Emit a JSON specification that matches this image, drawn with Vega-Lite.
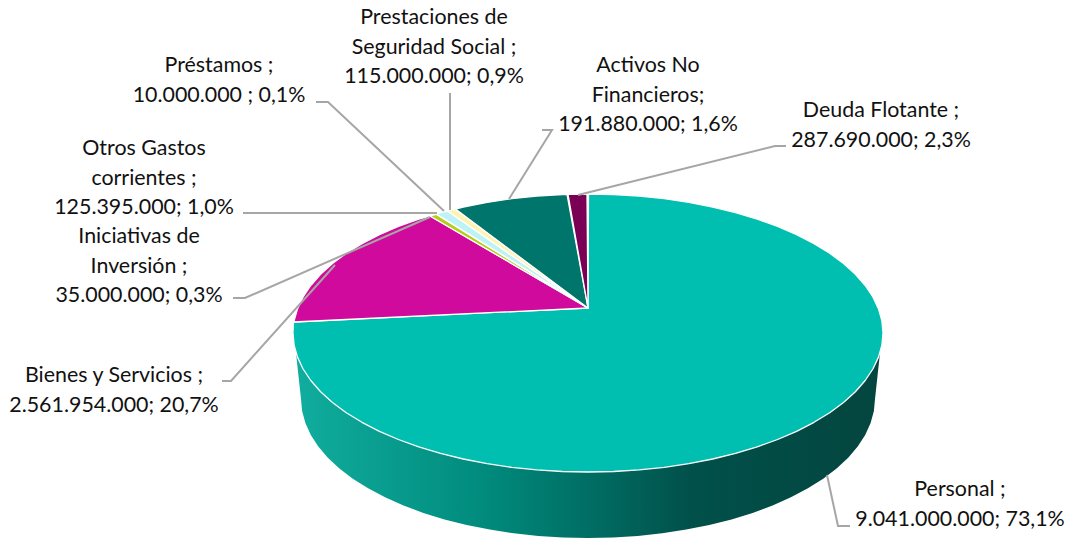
{"$schema":"https://vega.github.io/schema/vega-lite/v6.json","width":1073,"height":538,"autosize":{"type":"fit","contains":"padding"},"padding":0,"background":"white","view":{"stroke":null},
"datasets":{
"pared":[{"o":0,"x":296,"y":353},{"o":1,"x":301,"y":399},{"o":2,"x":302.1,"y":411.1},{"o":3,"x":305.4,"y":423.1},{"o":4,"x":310.8,"y":435},{"o":5,"x":318.3,"y":446.5},{"o":6,"x":327.8,"y":457.7},{"o":7,"x":339.4,"y":468.5},{"o":8,"x":352.8,"y":478.7},{"o":9,"x":368.1,"y":488.3},{"o":10,"x":385.1,"y":497.3},{"o":11,"x":403.5,"y":505.5},{"o":12,"x":423.4,"y":512.9},{"o":13,"x":444.5,"y":519.4},{"o":14,"x":466.7,"y":525},{"o":15,"x":489.8,"y":529.6},{"o":16,"x":513.8,"y":533.3},{"o":17,"x":538.2,"y":535.9},{"o":18,"x":563,"y":537.5},{"o":19,"x":588,"y":538},{"o":20,"x":613,"y":537.5},{"o":21,"x":637.8,"y":535.9},{"o":22,"x":662.2,"y":533.3},{"o":23,"x":686.2,"y":529.6},{"o":24,"x":709.3,"y":525},{"o":25,"x":731.5,"y":519.4},{"o":26,"x":752.6,"y":512.9},{"o":27,"x":772.6,"y":505.5},{"o":28,"x":790.9,"y":497.3},{"o":29,"x":807.9,"y":488.3},{"o":30,"x":823.2,"y":478.7},{"o":31,"x":836.6,"y":468.5},{"o":32,"x":848.2,"y":457.7},{"o":33,"x":857.7,"y":446.5},{"o":34,"x":865.2,"y":435},{"o":35,"x":870.6,"y":423.1},{"o":36,"x":873.9,"y":411.1},{"o":37,"x":875,"y":399},{"o":38,"x":880,"y":353},{"o":39,"x":296,"y":353}],
"sectores":[
{"s":"Personal","o":0,"x":588.5,"y":194},{"s":"Personal","o":1,"x":613.7,"y":194.5},{"s":"Personal","o":2,"x":639.2,"y":196.1},{"s":"Personal","o":3,"x":664.3,"y":198.7},{"s":"Personal","o":4,"x":688.9,"y":202.4},{"s":"Personal","o":5,"x":712.7,"y":207},{"s":"Personal","o":6,"x":735.5,"y":212.6},{"s":"Personal","o":7,"x":757.2,"y":219.1},{"s":"Personal","o":8,"x":777.6,"y":226.5},{"s":"Personal","o":9,"x":796.6,"y":234.7},{"s":"Personal","o":10,"x":814,"y":243.7},{"s":"Personal","o":11,"x":829.7,"y":253.3},{"s":"Personal","o":12,"x":843.5,"y":263.5},{"s":"Personal","o":13,"x":855.4,"y":274.3},{"s":"Personal","o":14,"x":865.2,"y":285.5},{"s":"Personal","o":15,"x":872.9,"y":297},{"s":"Personal","o":16,"x":878.5,"y":308.9},{"s":"Personal","o":17,"x":881.9,"y":320.9},{"s":"Personal","o":18,"x":883,"y":333},{"s":"Personal","o":19,"x":881.9,"y":345.1},{"s":"Personal","o":20,"x":878.5,"y":357.1},{"s":"Personal","o":21,"x":872.9,"y":369},{"s":"Personal","o":22,"x":865.2,"y":380.5},{"s":"Personal","o":23,"x":855.4,"y":391.7},{"s":"Personal","o":24,"x":843.5,"y":402.5},{"s":"Personal","o":25,"x":829.7,"y":412.7},{"s":"Personal","o":26,"x":814,"y":422.3},{"s":"Personal","o":27,"x":796.6,"y":431.3},{"s":"Personal","o":28,"x":777.6,"y":439.5},{"s":"Personal","o":29,"x":757.2,"y":446.9},{"s":"Personal","o":30,"x":735.5,"y":453.4},{"s":"Personal","o":31,"x":712.7,"y":459},{"s":"Personal","o":32,"x":688.9,"y":463.6},{"s":"Personal","o":33,"x":664.3,"y":467.3},{"s":"Personal","o":34,"x":639.2,"y":469.9},{"s":"Personal","o":35,"x":613.7,"y":471.5},{"s":"Personal","o":36,"x":588,"y":472},{"s":"Personal","o":37,"x":562.3,"y":471.5},{"s":"Personal","o":38,"x":536.8,"y":469.9},{"s":"Personal","o":39,"x":511.7,"y":467.3},{"s":"Personal","o":40,"x":487.1,"y":463.6},{"s":"Personal","o":41,"x":463.3,"y":459},{"s":"Personal","o":42,"x":440.5,"y":453.4},{"s":"Personal","o":43,"x":418.8,"y":446.9},{"s":"Personal","o":44,"x":398.4,"y":439.5},{"s":"Personal","o":45,"x":379.4,"y":431.3},{"s":"Personal","o":46,"x":362,"y":422.3},{"s":"Personal","o":47,"x":346.3,"y":412.7},{"s":"Personal","o":48,"x":332.5,"y":402.5},{"s":"Personal","o":49,"x":320.6,"y":391.7},{"s":"Personal","o":50,"x":310.8,"y":380.5},{"s":"Personal","o":51,"x":303.1,"y":369},{"s":"Personal","o":52,"x":297.5,"y":357.1},{"s":"Personal","o":53,"x":294.1,"y":345.1},{"s":"Personal","o":54,"x":293,"y":333},{"s":"Personal","o":55,"x":293.4,"y":322},{"s":"Personal","o":56,"x":588,"y":308},{"s":"Personal","o":57,"x":588.5,"y":194},
{"s":"Bienes y Servicios","o":0,"x":293.4,"y":322},{"s":"Bienes y Servicios","o":1,"x":294.1,"y":320.9},{"s":"Bienes y Servicios","o":2,"x":297.5,"y":308.9},{"s":"Bienes y Servicios","o":3,"x":303.1,"y":297},{"s":"Bienes y Servicios","o":4,"x":310.8,"y":285.5},{"s":"Bienes y Servicios","o":5,"x":320.6,"y":274.3},{"s":"Bienes y Servicios","o":6,"x":332.5,"y":263.5},{"s":"Bienes y Servicios","o":7,"x":346.3,"y":253.3},{"s":"Bienes y Servicios","o":8,"x":362,"y":243.7},{"s":"Bienes y Servicios","o":9,"x":379.4,"y":234.7},{"s":"Bienes y Servicios","o":10,"x":398.4,"y":226.5},{"s":"Bienes y Servicios","o":11,"x":418.8,"y":219.1},{"s":"Bienes y Servicios","o":12,"x":430,"y":216},{"s":"Bienes y Servicios","o":13,"x":588,"y":308},{"s":"Bienes y Servicios","o":14,"x":293.4,"y":322},
{"s":"Iniciativas de Inversión","o":0,"x":430,"y":216},{"s":"Iniciativas de Inversión","o":1,"x":436,"y":214.3},{"s":"Iniciativas de Inversión","o":2,"x":588,"y":308},{"s":"Iniciativas de Inversión","o":3,"x":430,"y":216},
{"s":"Otros Gastos corrientes","o":0,"x":436.5,"y":214},{"s":"Otros Gastos corrientes","o":1,"x":440.5,"y":212.6},{"s":"Otros Gastos corrientes","o":2,"x":447.5,"y":211},{"s":"Otros Gastos corrientes","o":3,"x":588,"y":308},{"s":"Otros Gastos corrientes","o":4,"x":436.5,"y":214},
{"s":"Prestaciones de Seguridad Social","o":0,"x":447.5,"y":211},{"s":"Prestaciones de Seguridad Social","o":1,"x":455,"y":209.2},{"s":"Prestaciones de Seguridad Social","o":2,"x":588,"y":308},{"s":"Prestaciones de Seguridad Social","o":3,"x":447.5,"y":211},
{"s":"Activos No Financieros","o":0,"x":455.5,"y":209},{"s":"Activos No Financieros","o":1,"x":463.3,"y":207},{"s":"Activos No Financieros","o":2,"x":487.1,"y":202.4},{"s":"Activos No Financieros","o":3,"x":511.7,"y":198.7},{"s":"Activos No Financieros","o":4,"x":536.8,"y":196.1},{"s":"Activos No Financieros","o":5,"x":562.3,"y":194.5},{"s":"Activos No Financieros","o":6,"x":567,"y":194.3},{"s":"Activos No Financieros","o":7,"x":588,"y":308},{"s":"Activos No Financieros","o":8,"x":455.5,"y":209},
{"s":"Deuda Flotante","o":0,"x":568,"y":194.3},{"s":"Deuda Flotante","o":1,"x":587,"y":194},{"s":"Deuda Flotante","o":2,"x":588,"y":308},{"s":"Deuda Flotante","o":3,"x":568,"y":194.3}],
"guias":[
{"s":"Prestaciones","o":0,"x":450,"y":93},{"s":"Prestaciones","o":1,"x":450,"y":210},
{"s":"Prestamos","o":0,"x":316,"y":102},{"s":"Prestamos","o":1,"x":328,"y":102},{"s":"Prestamos","o":2,"x":444,"y":211},
{"s":"Otros","o":0,"x":243,"y":213},{"s":"Otros","o":1,"x":437,"y":213},
{"s":"Iniciativas","o":0,"x":233,"y":298},{"s":"Iniciativas","o":1,"x":245,"y":298},{"s":"Iniciativas","o":2,"x":430,"y":217},
{"s":"Bienes","o":0,"x":222,"y":381},{"s":"Bienes","o":1,"x":231,"y":381},{"s":"Bienes","o":2,"x":335,"y":265},
{"s":"Activos","o":0,"x":542,"y":130},{"s":"Activos","o":1,"x":552,"y":130},{"s":"Activos","o":2,"x":509,"y":199},
{"s":"Deuda","o":0,"x":786,"y":146},{"s":"Deuda","o":1,"x":775,"y":146},{"s":"Deuda","o":2,"x":578,"y":195},
{"s":"Personal","o":0,"x":827,"y":475},{"s":"Personal","o":1,"x":838,"y":526},{"s":"Personal","o":2,"x":850,"y":526}],
"etiquetas":[
{"categoria":"Prestaciones de Seguridad Social","valor":115000000,"porcentaje":0.9,"etiqueta":"Prestaciones de\nSeguridad Social ;\n115.000.000; 0,9%","x":434,"y":18},
{"categoria":"Préstamos","valor":10000000,"porcentaje":0.1,"etiqueta":"Préstamos ;\n10.000.000 ; 0,1%","x":219,"y":66},
{"categoria":"Otros Gastos corrientes","valor":125395000,"porcentaje":1.0,"etiqueta":"Otros Gastos\ncorrientes ;\n125.395.000; 1,0%","x":144,"y":149},
{"categoria":"Iniciativas de Inversión","valor":35000000,"porcentaje":0.3,"etiqueta":"Iniciativas de\nInversión ;\n35.000.000; 0,3%","x":139,"y":237},
{"categoria":"Bienes y Servicios","valor":2561954000,"porcentaje":20.7,"etiqueta":"Bienes y Servicios ;\n2.561.954.000; 20,7%","x":114,"y":376},
{"categoria":"Activos No Financieros","valor":191880000,"porcentaje":1.6,"etiqueta":"Activos No\nFinancieros;\n191.880.000; 1,6%","x":648,"y":66},
{"categoria":"Deuda Flotante","valor":287690000,"porcentaje":2.3,"etiqueta":"Deuda Flotante ;\n287.690.000; 2,3%","x":881,"y":111},
{"categoria":"Personal","valor":9041000000,"porcentaje":73.1,"etiqueta":"Personal ;\n9.041.000.000; 73,1%","x":960,"y":490}]
},
"encoding":{"x":{"field":"x","type":"quantitative","scale":{"domain":[0,1073],"nice":false,"zero":false},"axis":null},"y":{"field":"y","type":"quantitative","scale":{"domain":[538,0],"nice":false,"zero":false},"axis":null}},
"layer":[
{"data":{"name":"pared"},"mark":{"type":"line","clip":false,"strokeWidth":0,"fill":{"gradient":"linear","x1":0,"y1":0,"x2":1,"y2":0,"stops":[{"offset":0,"color":"#10ad9e"},{"offset":0.33,"color":"#008a7c"},{"offset":0.68,"color":"#01504a"},{"offset":1,"color":"#04453f"}]}},"encoding":{"order":{"field":"o","type":"quantitative"}}},
{"data":{"name":"sectores"},"mark":{"type":"line","stroke":"white","strokeWidth":1.3,"strokeJoin":"round"},"encoding":{"order":{"field":"o","type":"quantitative"},"detail":{"field":"s"},"fill":{"field":"s","type":"nominal","legend":null,"scale":{"domain":["Personal","Bienes y Servicios","Iniciativas de Inversión","Otros Gastos corrientes","Prestaciones de Seguridad Social","Activos No Financieros","Deuda Flotante"],"range":["#00bfb0","#cf0a9c","#b5cc18","#bdf3f7","#fff3b0","#00756b","#7a0055"]}}}},
{"data":{"name":"guias"},"mark":{"type":"line","stroke":"#a6a6a6","strokeWidth":2},"encoding":{"order":{"field":"o","type":"quantitative"},"detail":{"field":"s"}}},
{"data":{"name":"etiquetas"},"mark":{"type":"text","align":"center","baseline":"middle","lineBreak":"\n","lineHeight":29.5,"font":"Lato","fontSize":21.4,"fill":"#111111"},"encoding":{"text":{"field":"etiqueta","type":"nominal"}}}
]}
